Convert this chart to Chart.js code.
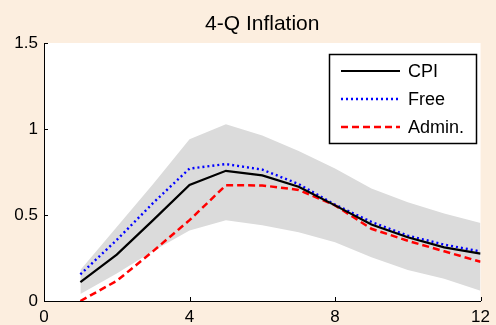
<!DOCTYPE html>
<html>
<head>
<meta charset="utf-8">
<script src="https://cdn.jsdelivr.net/npm/chart.js@4/dist/chart.umd.min.js"></script>
<style>
  html, body { margin: 0; padding: 0; background: #FCEEDF; }
  #wrap { width: 496px; height: 325px; }
</style>
</head>
<body>
<div id="wrap"><canvas id="c" width="496" height="325"></canvas></div>
<script>
// Quarters after the shock
const quarters = [1, 2, 3, 4, 5, 6, 7, 8, 9, 10, 11, 12];
// Responses of 4-quarter inflation
const cpi   = [0.11, 0.27, 0.47, 0.675, 0.757, 0.73, 0.664, 0.556, 0.445, 0.371, 0.312, 0.275];
const free  = [0.155, 0.355, 0.57, 0.77, 0.796, 0.764, 0.68, 0.56, 0.46, 0.38, 0.328, 0.288];
const admin = [0.0, 0.117, 0.29, 0.47, 0.673, 0.672, 0.646, 0.556, 0.42, 0.35, 0.289, 0.228];
// Confidence band around CPI
const bandUpper = [0.18, 0.43, 0.68, 0.94, 1.027, 0.962, 0.872, 0.77, 0.654, 0.574, 0.508, 0.453];
const bandLower = [0.04, 0.16, 0.29, 0.41, 0.47, 0.44, 0.40, 0.342, 0.254, 0.18, 0.13, 0.059];
// Axis ticks
const xTicks = [0, 4, 8, 12];
const yTicks = [0, 0.5, 1, 1.5];
const titleText = '4-Q Inflation';

const pts = arr => quarters.map((q, i) => ({ x: q, y: arr[i] }));
const FONT = "'Liberation Sans', Arial, Helvetica, sans-serif";

const lineSets = [
  { label: 'CPI', data: pts(cpi), borderColor: '#000000', borderWidth: 2.2, borderDash: [] },
  { label: 'Free', data: pts(free), borderColor: '#0000FF', borderWidth: 2.4, borderDash: [2, 3] },
  { label: 'Admin.', data: pts(admin), borderColor: '#FF0000', borderWidth: 2.5, borderDash: [7, 4] }
];

const background = {
  id: 'background',
  beforeDraw(chart) {
    const { ctx, chartArea: a } = chart;
    ctx.save();
    ctx.fillStyle = '#FCEEDF';
    ctx.fillRect(0, 0, chart.width, chart.height);
    ctx.fillStyle = '#FFFFFF';
    ctx.fillRect(a.left, a.top, a.right - a.left, a.bottom - a.top);
    ctx.restore();
  }
};

// Title centred over the plot area
const plotTitle = {
  id: 'plotTitle',
  afterDraw(chart) {
    const { ctx, chartArea: a } = chart;
    ctx.save();
    ctx.font = '21px ' + FONT;
    ctx.fillStyle = '#000';
    ctx.textAlign = 'center';
    ctx.textBaseline = 'alphabetic';
    ctx.fillText(titleText, (a.left + a.right) / 2, 30);
    ctx.restore();
  }
};

// Inward tick marks on both axes
const inwardTicks = {
  id: 'inwardTicks',
  afterDatasetsDraw(chart) {
    const { ctx, chartArea: a, scales } = chart;
    ctx.save();
    ctx.strokeStyle = '#000';
    ctx.lineWidth = 1;
    ctx.beginPath();
    xTicks.forEach(v => {
      const px = Math.round(scales.x.getPixelForValue(v)) + 0.5;
      ctx.moveTo(px, a.bottom);
      ctx.lineTo(px, a.bottom - 4);
    });
    yTicks.forEach(v => {
      const py = Math.round(scales.y.getPixelForValue(v)) + 0.5;
      ctx.moveTo(a.left, py);
      ctx.lineTo(a.left + 4, py);
    });
    ctx.stroke();
    ctx.restore();
  }
};

// Boxed legend in the upper right of the plot
const boxLegend = {
  id: 'boxLegend',
  afterDraw(chart) {
    const { ctx } = chart;
    const left = 329, top = 54, right = 476, bottom = 143;
    ctx.save();
    ctx.fillStyle = '#FFFFFF';
    ctx.fillRect(left, top, right - left, bottom - top);
    ctx.strokeStyle = '#000';
    ctx.lineWidth = 1.5;
    ctx.strokeRect(left + 0.5, top + 0.5, right - left, bottom - top);
    const rows = [71, 99, 127];
    ctx.font = '18px ' + FONT;
    ctx.textBaseline = 'middle';
    ctx.textAlign = 'left';
    lineSets.forEach((s, i) => {
      const y = rows[i];
      ctx.beginPath();
      ctx.strokeStyle = s.borderColor;
      ctx.lineWidth = s.borderWidth;
      ctx.setLineDash(s.borderDash);
      ctx.moveTo(341, y);
      ctx.lineTo(400, y);
      ctx.stroke();
      ctx.setLineDash([]);
      ctx.fillStyle = '#000';
      ctx.fillText(s.label, 408, y + 1);
    });
    ctx.restore();
  }
};

new Chart(document.getElementById('c'), {
  type: 'line',
  data: {
    datasets: [
      ...lineSets.map(s => ({
        label: s.label, data: s.data, borderColor: s.borderColor,
        borderWidth: s.borderWidth, borderDash: s.borderDash,
        pointRadius: 0, fill: false, tension: 0
      })),
      { label: 'upper', data: pts(bandUpper), borderWidth: 0, borderColor: 'rgba(0,0,0,0)',
        backgroundColor: 'rgb(219,219,219)', pointRadius: 0, fill: '+1', tension: 0 },
      { label: 'lower', data: pts(bandLower), borderWidth: 0, borderColor: 'rgba(0,0,0,0)',
        pointRadius: 0, fill: false, tension: 0 }
    ]
  },
  options: {
    responsive: false,
    animation: false,
    events: [],
    layout: { padding: { left: 0, right: 11, top: 43, bottom: 0 } },
    plugins: {
      legend: { display: false },
      tooltip: { enabled: false },
      title: { display: false }
    },
    scales: {
      x: {
        type: 'linear', min: 0, max: 12,
        afterBuildTicks: s => { s.ticks = xTicks.map(v => ({ value: v })); },
        afterFit: s => { s.height = 24; },
        grid: { display: true, drawOnChartArea: false, drawTicks: false },
        border: { display: true, color: '#000', width: 1 },
        ticks: { color: '#000', padding: 6, maxRotation: 0, font: { family: FONT, size: 17 },
                 callback: v => String(v) }
      },
      y: {
        min: 0, max: 1.5,
        afterBuildTicks: s => { s.ticks = yTicks.map(v => ({ value: v })); },
        afterFit: s => { s.width = 44; },
        grid: { display: true, drawOnChartArea: false, drawTicks: false },
        border: { display: true, color: '#000', width: 1 },
        ticks: { color: '#000', padding: 6, font: { family: FONT, size: 17 },
                 callback: v => String(v) }
      }
    }
  },
  plugins: [background, plotTitle, inwardTicks, boxLegend]
});
</script>
</body>
</html>
